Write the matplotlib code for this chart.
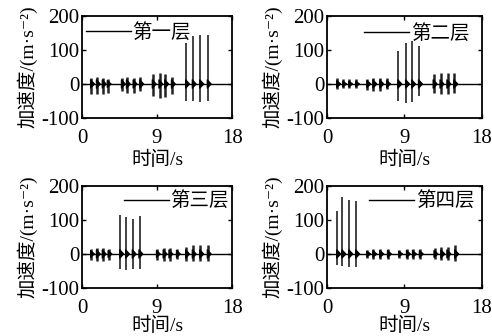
import numpy as np
import matplotlib
matplotlib.use("Agg")
import matplotlib.pyplot as plt
from matplotlib.patches import Polygon

plt.rcParams['font.family'] = ['Liberation Serif', 'Noto Sans CJK SC', 'DejaVu Sans']
plt.rcParams['axes.unicode_minus'] = False

floor_names = ["第一层", "第二层", "第三层", "第四层"]

# burst times (s), positive peak and negative peak (m/s^2) per floor
t1 = [1.1, 1.8, 2.5, 3.1, 4.8, 5.4, 6.2, 7.0, 8.5, 9.3, 10.0, 10.8, 12.5, 13.3, 14.2, 15.1]
p1 = [18, 20, 18, 15, 18, 20, 18, 22, 28, 32, 28, 22, 120, 140, 143, 143]
n1 = [-28, -30, -28, -25, -22, -25, -25, -20, -35, -40, -38, -30, -50, -50, -52, -50]

t2 = [1.2, 1.9, 2.6, 3.4, 4.7, 5.4, 6.2, 7.0, 8.3, 9.2, 9.9, 10.7, 12.4, 13.2, 14.0, 14.8]
p2 = [18, 15, 15, 15, 15, 18, 18, 18, 98, 122, 125, 113, 30, 32, 32, 32]
n2 = [-15, -12, -12, -12, -18, -20, -22, -15, -50, -55, -52, -35, -25, -28, -28, -25]

t3 = [1.1, 1.8, 2.5, 3.2, 4.6, 5.3, 6.1, 6.9, 9.0, 9.8, 10.5, 11.4, 12.5, 13.3, 14.2, 15.1]
p3 = [15, 18, 18, 15, 115, 110, 102, 112, 15, 18, 18, 15, 22, 25, 25, 25]
n3 = [-18, -22, -22, -18, -45, -48, -45, -45, -18, -20, -20, -15, -20, -22, -22, -20]

t4 = [1.2, 1.8, 2.6, 3.4, 4.7, 5.4, 6.2, 7.1, 8.4, 9.3, 10.0, 10.8, 12.5, 13.3, 14.0, 14.9]
p4 = [125, 168, 160, 155, 12, 14, 15, 15, 12, 15, 15, 15, 18, 20, 22, 25]
n4 = [-32, -35, -38, -38, -12, -14, -15, -15, -12, -15, -15, -15, -15, -18, -18, -20]

# ring-down envelope of each burst: half height (m/s^2) and length (s)
ring_amp = 13
ring_len = 0.4

times = [t1, t2, t3, t4]
pos = [p1, p2, p3, p4]
neg = [n1, n2, n3, n4]

# axes boxes [left, bottom, width, height] and legend anchors
boxes = [[0.1667, 0.6488, 0.305, 0.3036],
         [0.6646, 0.6488, 0.315, 0.3036],
         [0.1667, 0.1429, 0.305, 0.3036],
         [0.6646, 0.1429, 0.315, 0.3036]]
leg_anchor = [(-0.065, 1.075), (1.005, 1.07), (1.07, 1.09), (1.04, 1.09)]
leg_loc = ['upper left', 'upper right', 'upper right', 'upper right']

fig = plt.figure(figsize=(4.92, 3.36), dpi=100)

for i in range(4):
    ax = fig.add_axes(boxes[i])
    ax.axhline(0, color='black', lw=1.0, zorder=1)
    big = [p > 60 for p in pos[i]]
    lws = [1.2 if b else 1.8 for b in big]
    ax.vlines(times[i], neg[i], pos[i], color='#222222', lw=lws, zorder=2)
    for t, p, n in zip(times[i], pos[i], neg[i]):
        a = min(ring_amp, p * 0.7, -n * 0.7)
        ax.add_patch(Polygon([(t - 0.08, a), (t + ring_len, 0), (t - 0.08, -a)],
                             closed=True, color='black', lw=0.8, zorder=2))
    # legend
    line, = ax.plot([], [], color='black', lw=1.0)
    ax.legend([line], [floor_names[i]], loc=leg_loc[i], bbox_to_anchor=leg_anchor[i],
              frameon=False, handlelength=2.3, handletextpad=0.1,
              borderaxespad=0.3,
              prop={'family': ['Noto Sans CJK SC'], 'size': 14})

    ax.set_xlim(0, 18)
    ax.set_ylim(-100, 200)
    ax.set_xticks([0, 9, 18])
    ax.set_yticks([-100, 0, 100, 200])
    ax.tick_params(direction='in', length=3, width=1, top=True, right=True,
                   labelsize=15)
    ax.tick_params(axis='x', pad=8)
    ax.tick_params(axis='y', pad=2)
    for s in ax.spines.values():
        s.set_linewidth(1.3)
    ax.set_xlabel("时间/s", fontsize=14, labelpad=2 if i < 2 else -1)
    ax.set_ylabel("加速度/(m·s⁻²)", fontsize=14, labelpad=3)

fig.savefig("out.png", dpi=100)
